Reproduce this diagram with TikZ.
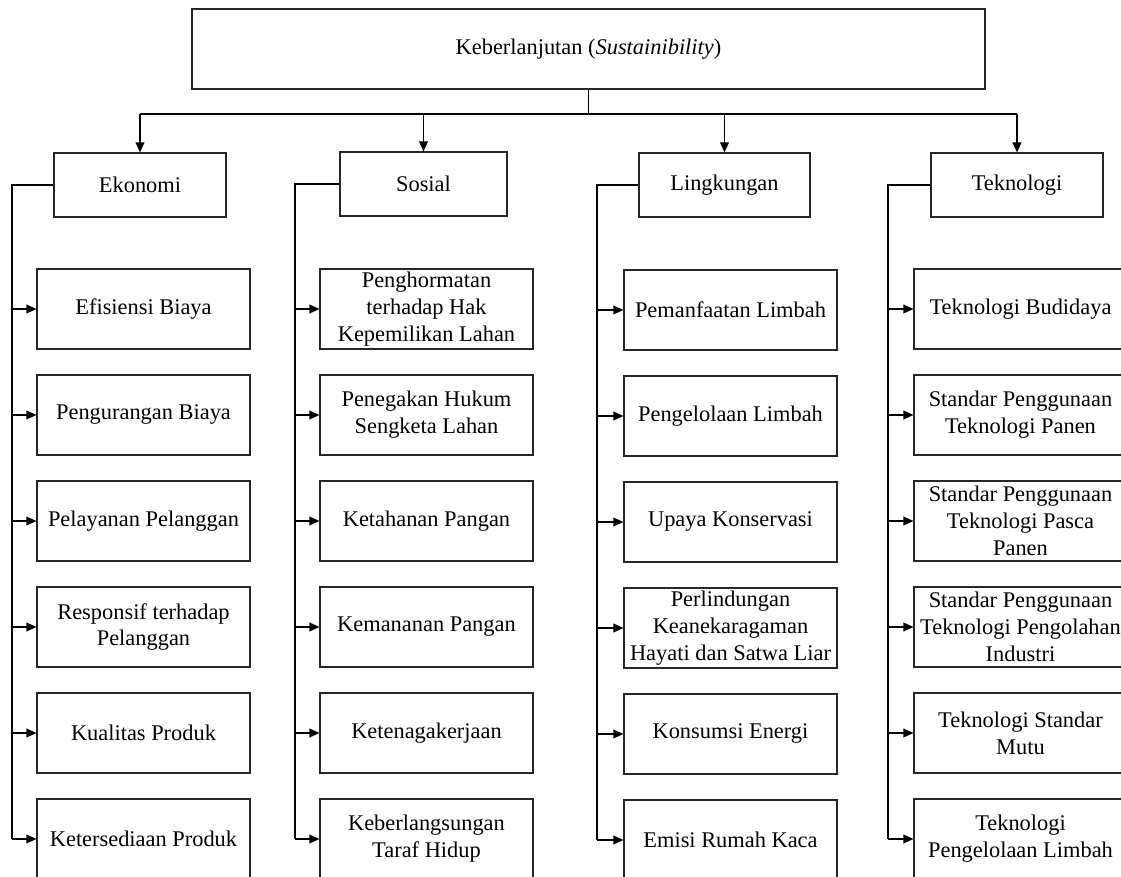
\documentclass[tikz,border=0pt]{standalone}
\usepackage{fontspec}
\setmainfont{Liberation Serif}
\usetikzlibrary{arrows.meta}
\tikzset{
  box/.style={draw=black!85, line width=0.6pt, fill=white, align=center,
    inner sep=0pt, font=\fontsize{11.2}{13.4}\selectfont},
  rootbox/.style={box, minimum width=396.5pt, minimum height=40pt},
  catbox/.style={box, minimum width=86pt, minimum height=32pt},
  leafbox/.style={box, minimum width=106.5pt, minimum height=40pt},
  link/.style={draw=black, line width=0.6pt},
  arr/.style={link, -{Triangle[length=5pt,width=4.4pt]}}
}
\begin{document}
\begin{tikzpicture}[x=0.5pt, y=-0.5pt]
\useasboundingbox (0,0) rectangle (1121,877);
\clip (0,0) rectangle (1121,877);

% root
\node[rootbox] (root) at (588.5,49) {Keberlanjutan (\textit{Sustainibility})};

% pillars
\node[catbox] (eko) at (140,185) {Ekonomi};
\node[catbox, minimum width=83.5pt] (sos) at (423.5,184) {Sosial};
\node[catbox, minimum width=85.5pt] (lin) at (724.5,185) {Lingkungan};
\node[catbox] (tek) at (1017,185) {Teknologi};

% bus from root to pillars
\coordinate (bus) at (588.5,114);
\draw[link] (root.south) -- (bus);
\draw[link] (eko |- bus) -- (tek |- bus);
\foreach \c in {eko,sos,lin,tek}
  \draw[arr] (\c |- bus) -- (\c.north);

% Ekonomi leaves
\node[leafbox] (e1) at (143.5,309) {Efisiensi Biaya};
\node[leafbox] (e2) at (143.5,415) {Pengurangan Biaya};
\node[leafbox] (e3) at (143.5,521) {Pelayanan Pelanggan};
\node[leafbox] (e4) at (143.5,627) {Responsif terhadap\\Pelanggan};
\node[leafbox] (e5) at (143.5,733) {Kualitas Produk};
\node[leafbox] (e6) at (143.5,839) {Ketersediaan Produk};

% Sosial leaves
\node[leafbox] (s1) at (426.5,309) {Penghormatan\\terhadap Hak\\Kepemilikan Lahan};
\node[leafbox] (s2) at (426.5,415) {Penegakan Hukum\\Sengketa Lahan};
\node[leafbox] (s3) at (426.5,521) {Ketahanan Pangan};
\node[leafbox] (s4) at (426.5,627) {Kemananan Pangan};
\node[leafbox] (s5) at (426.5,733) {Ketenagakerjaan};
\node[leafbox] (s6) at (426.5,839) {Keberlangsungan\\Taraf Hidup};

% Lingkungan leaves
\node[leafbox] (l1) at (730.5,310) {Pemanfaatan Limbah};
\node[leafbox] (l2) at (730.5,416) {Pengelolaan Limbah};
\node[leafbox] (l3) at (730.5,522) {Upaya Konservasi};
\node[leafbox] (l4) at (730.5,628) {Perlindungan\\Keanekaragaman\\Hayati dan Satwa Liar};
\node[leafbox] (l5) at (730.5,734) {Konsumsi Energi};
\node[leafbox] (l6) at (730.5,840) {Emisi Rumah Kaca};

% Teknologi leaves
\node[leafbox] (t1) at (1020.5,309) {Teknologi Budidaya};
\node[leafbox] (t2) at (1020.5,415) {Standar Penggunaan\\Teknologi Panen};
\node[leafbox] (t3) at (1020.5,521) {Standar Penggunaan\\Teknologi Pasca\\Panen};
\node[leafbox] (t4) at (1020.5,627) {Standar Penggunaan\\Teknologi Pengolahan\\Industri};
\node[leafbox] (t5) at (1020.5,733) {Teknologi Standar\\Mutu};
\node[leafbox] (t6) at (1020.5,839) {Teknologi\\Pengelolaan Limbah};

% spines
\coordinate (ekoS) at (12,185);
\coordinate (sosS) at (295,184);
\coordinate (linS) at (597,185);
\coordinate (tekS) at (888,185);

\draw[link] (eko.west) -- (ekoS) -- (ekoS |- e6);
\draw[link] (sos.west) -- (sosS) -- (sosS |- s6);
\draw[link] (lin.west) -- (linS) -- (linS |- l6);
\draw[link] (tek.west) -- (tekS) -- (tekS |- t6);

\foreach \i in {1,...,6} {
  \draw[arr] (ekoS |- e\i) -- (e\i.west);
  \draw[arr] (sosS |- s\i) -- (s\i.west);
  \draw[arr] (linS |- l\i) -- (l\i.west);
  \draw[arr] (tekS |- t\i) -- (t\i.west);
}
\end{tikzpicture}
\end{document}
